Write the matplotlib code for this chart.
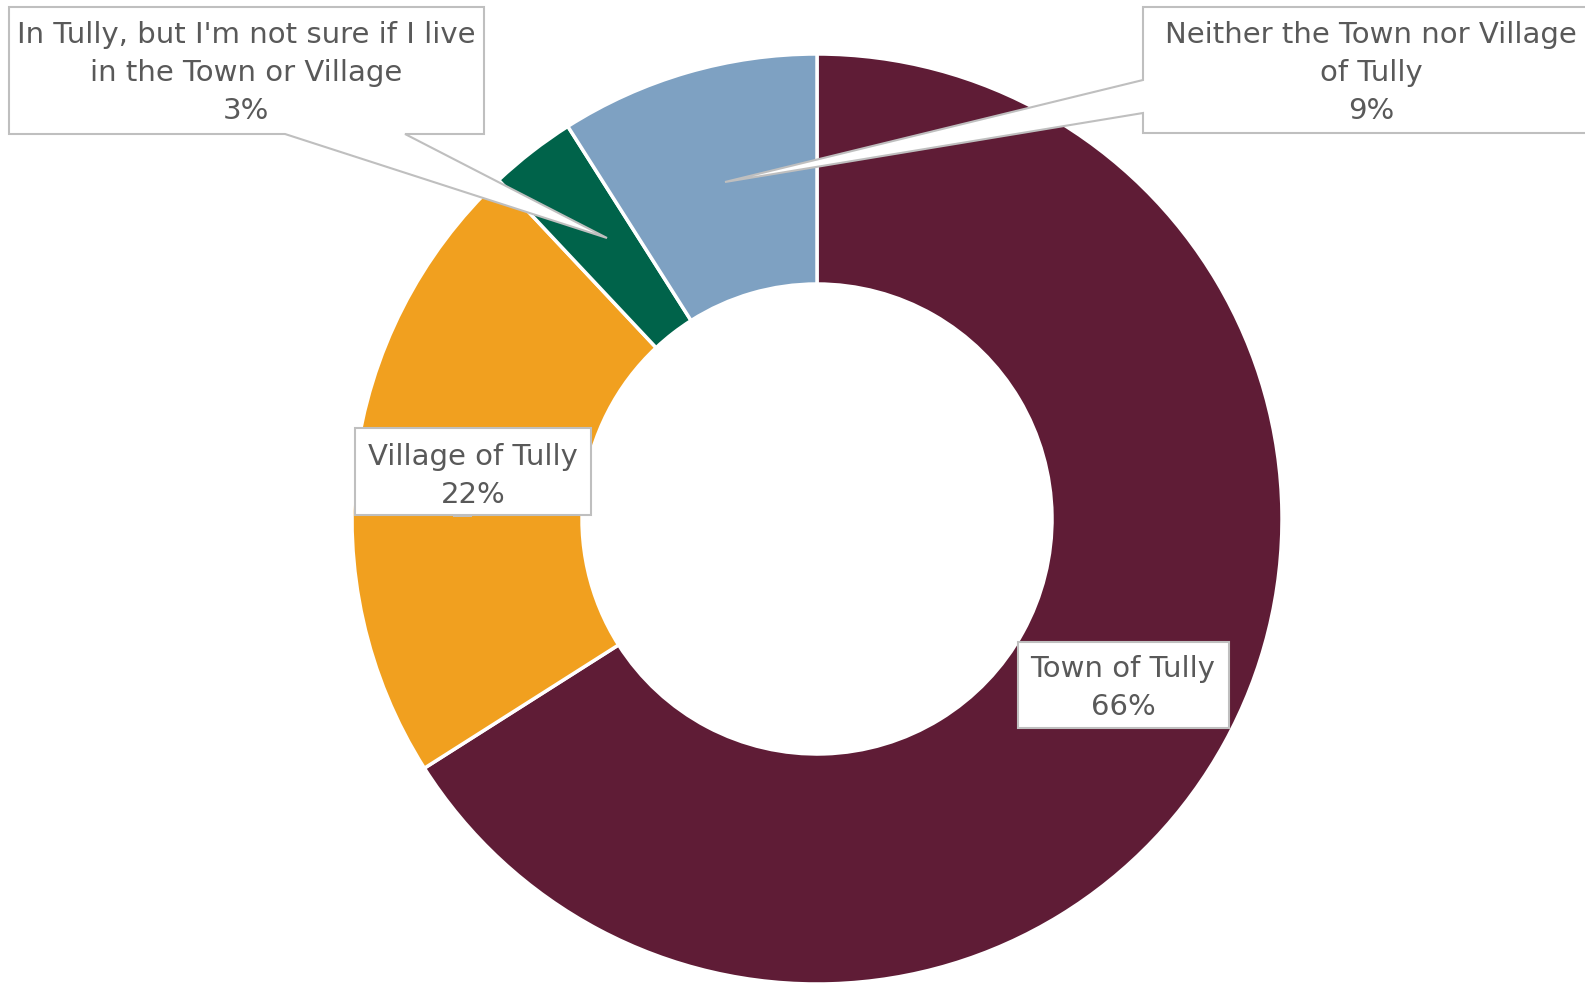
import matplotlib.pyplot as plt
from matplotlib.patches import Polygon, Rectangle

# residence answers, clockwise from 12 o'clock
categories = ["Town of Tully",
              "Village of Tully",
              "In Tully, but I'm not sure if I live\nin the Town or Village",
              "Neither the Town nor Village\nof Tully"]
shares = [66, 22, 3, 9]
colors = ["#5F1C36", "#F1A01F", "#00634A", "#7EA1C2"]

W, H = 1585, 983
GREY_TXT = "#595959"
GREY_LINE = "#BFBFBF"

plt.rcParams['font.family'] = ['DejaVu Sans']

fig = plt.figure(figsize=(W / 100, H / 100), dpi=100)
ax = fig.add_axes([0, 0, 1, 1])

def py(y):
    # pixel row -> data y (axis runs bottom-up)
    return H - y

ax.pie(shares, colors=colors, startangle=90, counterclock=False,
       center=(817, py(519)), radius=465,
       wedgeprops=dict(width=230, edgecolor="white", linewidth=2.5))

ax.set_xlim(0, W)
ax.set_ylim(0, H)
ax.set_aspect('auto')
ax.axis('off')

# label boxes: (outline in pixel coords, text block centre x, y)
callouts = [
    ([(9, 7), (484, 7), (484, 134), (405, 134), (607, 238), (285, 134), (9, 134)],
     246, 73),
    ([(1143, 7), (1610, 7), (1610, 133), (1143, 133), (1143, 113), (725, 182), (1143, 80)],
     1371, 73),
    ([(355, 428), (591, 428), (591, 515), (355, 515)], 473, 476),
    ([(1018, 642), (1229, 642), (1229, 728), (1018, 728)], 1123, 688),
]
order = [2, 3, 1, 0]

for (pts, tx, ty), i in zip(callouts, order):
    ax.add_patch(Polygon([(x, py(y)) for x, y in pts], closed=True,
                         facecolor="white", edgecolor=GREY_LINE,
                         linewidth=1.5, zorder=3))
    ax.text(tx, py(ty), f"{categories[i]}\n{shares[i]}%", ha="center", va="center",
            fontsize=21, color=GREY_TXT, linespacing=1.45, zorder=4)

# small leader stub under the village label
ax.add_patch(Rectangle((453, py(517)), 19, 2, facecolor=GREY_LINE,
                       edgecolor="none", zorder=3))

fig.savefig("out.png", dpi=100)
